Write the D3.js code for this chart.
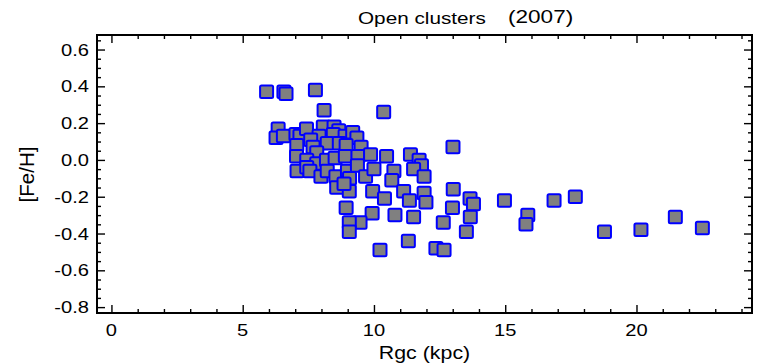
<!DOCTYPE html>
<html>
<head>
<meta charset="utf-8">
<script src="https://cdn.jsdelivr.net/npm/d3@7"></script>
<style>
  html, body { margin: 0; padding: 0; background: #fff; }
  svg { display: block; }
  text { font-family: "Liberation Sans", Arial, Helvetica, sans-serif; fill: #000; }
</style>
</head>
<body>
<svg id="chart" width="758" height="364"></svg>
<script>
// Galactocentric radius (kpc) of each open cluster
const rgc = [
  5.91, 6.57, 6.65, 7.77, 8.10, 10.37,
  6.35, 6.27, 6.55, 7.03, 7.18, 7.43, 8.07, 8.48, 8.66, 8.45, 8.90, 9.19, 9.35,
  7.91, 7.59, 7.06, 7.68, 8.22, 8.68, 8.94, 9.51,
  7.05, 7.82, 7.44, 7.82, 8.19, 8.52, 8.91, 9.39, 9.87, 10.48, 11.39, 11.72, 11.81,
  7.07, 7.44, 7.56, 7.98, 8.22, 8.55, 8.99, 9.07, 9.37, 9.68, 10.00, 10.76, 10.68, 11.51, 11.91,
  8.58, 9.06, 8.86, 9.95, 10.40, 11.13, 11.35, 11.91, 11.98,
  8.94, 9.93, 9.47, 9.06, 9.06, 10.80, 11.51, 11.31, 10.23,
  13.01, 13.02, 13.66, 13.79, 12.99, 12.64, 13.67, 13.52, 12.36, 12.67,
  14.97, 15.86, 15.79, 16.86, 17.67, 18.78, 20.17, 21.48, 22.51
];
// Metallicity [Fe/H] of each open cluster
const feh = [
  0.37, 0.37, 0.36, 0.38, 0.27, 0.26,
  0.17, 0.12, 0.13, 0.14, 0.13, 0.17, 0.18, 0.18, 0.16, 0.14, 0.13, 0.15, 0.12,
  0.13, 0.11, 0.08, 0.07, 0.09, 0.09, 0.08, 0.07,
  0.02, 0.04, 0.00, -0.02, 0.00, 0.01, 0.02, 0.02, 0.03, 0.02, 0.03, 0.00, -0.03,
  -0.06, -0.04, -0.06, -0.09, -0.06, -0.09, -0.06, -0.10, -0.03, -0.09, -0.05, -0.06, -0.11, -0.05, -0.09,
  -0.15, -0.17, -0.13, -0.17, -0.21, -0.17, -0.22, -0.18, -0.23,
  -0.26, -0.29, -0.34, -0.34, -0.39, -0.30, -0.31, -0.44, -0.49,
  0.07, -0.16, -0.21, -0.24, -0.26, -0.34, -0.31, -0.39, -0.48, -0.49,
  -0.22, -0.30, -0.35, -0.22, -0.20, -0.39, -0.38, -0.31, -0.37
];

const xMajor = [0, 5, 10, 15, 20];
const xMajorLabels = ["0", "5", "10", "15", "20"];
const xMinor = d3.range(0, 25, 1);
const yMajor = [-0.8, -0.6, -0.4, -0.2, 0.0, 0.2, 0.4, 0.6];
const yMajorLabels = ["-0.8", "-0.6", "-0.4", "-0.2", "0.0", "0.2", "0.4", "0.6"];
const yMinor = d3.range(-16, 14, 1).map(k => +(k * 0.05).toFixed(2));

const titleMain = "Open clusters";
const titleYear = "(2007)";
const xTitle = "Rgc (kpc)";
const yTitle = "[Fe/H]";

const svg = d3.select("#chart");
const plotL = 97, plotR = 752, plotT = 35, plotB = 313;
const stretch = 1.22;   // glyphs are drawn a little wide

const x = d3.scaleLinear().domain([-0.55, 24.4]).range([plotL, plotR]);
const y = d3.scaleLinear().domain([-0.832, 0.679]).range([plotB, plotT]);

const plotW = plotR - plotL, plotH = plotB - plotT;

// wide text helper: anchor at (px, py), scale horizontally about that anchor
function wideText(g, str, px, py, size, anchor) {
  return g.append("text")
    .attr("transform", `translate(${px},${py}) scale(${stretch},1)`)
    .attr("text-anchor", anchor)
    .style("font-size", size + "px")
    .text(str);
}

// tick marks on one side, pointing inward
function tickAxis(axisFn, scale, vals, size, tx, ty) {
  svg.append("g")
    .attr("transform", `translate(${tx},${ty})`)
    .call(axisFn(scale).tickValues(vals).tickSize(size).tickFormat(""))
    .call(g => g.select(".domain").remove())
    .call(g => g.selectAll("line").attr("stroke", "#000").attr("stroke-width", 1.4));
}
const xMinorOnly = xMinor.filter(v => !xMajor.includes(v));
const yMinorOnly = yMinor.filter(v => !yMajor.some(m => Math.abs(m - v) < 1e-9));

tickAxis(d3.axisBottom, x, xMinorOnly, -4, 0, plotB);
tickAxis(d3.axisTop, x, xMinorOnly, -4, 0, plotT);
tickAxis(d3.axisLeft, y, yMinorOnly, -4, plotL, 0);
tickAxis(d3.axisRight, y, yMinorOnly, -4, plotR, 0);

tickAxis(d3.axisBottom, x, xMajor, -8, 0, plotB);
tickAxis(d3.axisTop, x, xMajor, -8, 0, plotT);
tickAxis(d3.axisLeft, y, yMajor, -8, plotL, 0);
tickAxis(d3.axisRight, y, yMajor, -8, plotR, 0);

// frame
svg.append("rect")
  .attr("x", plotL).attr("y", plotT)
  .attr("width", plotW).attr("height", plotH)
  .attr("fill", "none").attr("stroke", "#000").attr("stroke-width", 2);

// tick labels
const labels = svg.append("g");
xMajor.forEach((v, i) => wideText(labels, xMajorLabels[i], x(v), 336, 16.5, "middle"));
yMajor.forEach((v, i) => wideText(labels, yMajorLabels[i], 89, y(v) + 6, 16.5, "end"));

// axis titles
wideText(svg, xTitle, (plotL + plotR) / 2, 359, 17.5, "middle");
svg.append("text")
  .attr("transform", `translate(34,${(plotT + plotB) / 2 + 0.5}) rotate(-90)`)
  .attr("text-anchor", "middle")
  .style("font-size", "20.5px")
  .text(yTitle);

// title
wideText(svg, titleMain, 358, 24, 17, "start");
wideText(svg, titleYear, 508, 23, 18.5, "start");

// cluster markers
const pts = rgc.map((r, i) => ({ r, f: feh[i] }));
const mw = 13, mh = 12.5;
svg.append("g")
  .selectAll("rect")
  .data(pts)
  .join("rect")
  .attr("x", d => x(d.r) - mw / 2)
  .attr("y", d => y(d.f) - mh / 2)
  .attr("width", mw).attr("height", mh)
  .attr("rx", 1.5)
  .attr("fill", "#808080")
  .attr("stroke", "#0000ff")
  .attr("stroke-width", 2);
</script>
</body>
</html>
